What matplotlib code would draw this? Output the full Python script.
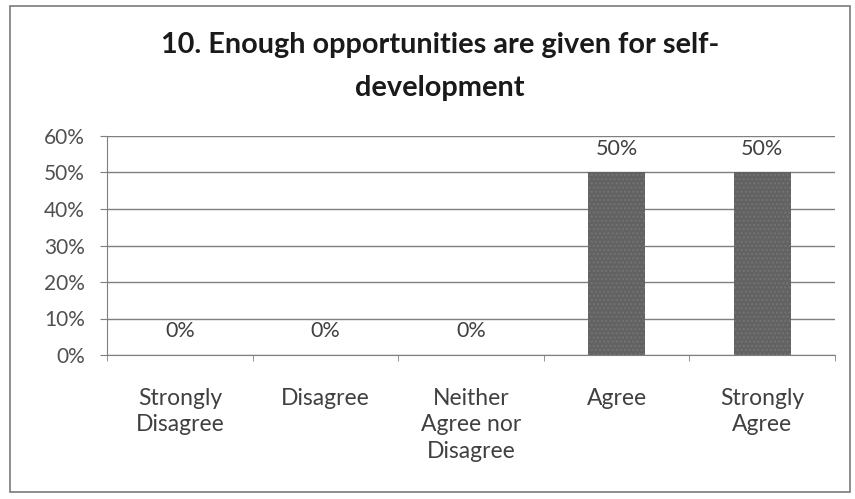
import matplotlib
matplotlib.use("Agg")
import matplotlib.pyplot as plt
from matplotlib.patches import Rectangle
from matplotlib.ticker import FixedLocator, NullFormatter

categories = ["Strongly\nDisagree", "Disagree", "Neither\nAgree nor\nDisagree", "Agree", "Strongly\nAgree"]
values = [0, 0, 0, 50, 50]
labels = ["0%", "0%", "0%", "50%", "50%"]
yticks = [0, 10, 20, 30, 40, 50, 60]
title = "10. Enough opportunities are given for self-\ndevelopment"

plt.rcParams['font.family'] = ['Lato', 'DejaVu Sans']

fig = plt.figure(figsize=(8.55, 4.99), dpi=100)
fig.patch.set_facecolor('white')
fig.add_artist(Rectangle((10/855, 1-492/499), 840/855, 486/499, transform=fig.transFigure,
                         fill=False, edgecolor='#7a7a7a', linewidth=1.2))

ax = fig.add_axes([107/855, 1-355/499, (835-107)/855, (355-136)/499])
x = list(range(len(categories)))
bars = ax.bar(x, values, width=0.39, color='#626262', edgecolor='#737373', hatch='....', linewidth=0, zorder=3)
ax.set_xlim(-0.5, len(categories) - 0.5)
ax.set_ylim(0, 60)
ax.set_yticks(yticks)
ax.set_yticklabels([f"{t}%" for t in yticks], fontsize=15, color='#505050')
ax.grid(axis='y', color='#7f7f7f', linewidth=1.0, zorder=0)
ax.set_axisbelow(True)
for s in ['top', 'right']:
    ax.spines[s].set_visible(False)
ax.spines['left'].set_color('#7f7f7f')
ax.spines['bottom'].set_color('#7f7f7f')
ax.tick_params(axis='y', length=5, color='#7f7f7f', pad=11)
ax.set_xticks(x)
ax.set_xticklabels(categories, fontsize=16.5, color='#404040', linespacing=1.3)
ax.tick_params(axis='x', length=0, pad=24)
ax.xaxis.set_minor_locator(FixedLocator([i - 0.5 for i in range(len(categories) + 1)]))
ax.xaxis.set_minor_formatter(NullFormatter())
ax.tick_params(axis='x', which='minor', length=4, color='#7f7f7f')

for xi, v, lab in zip(x, values, labels):
    ax.annotate(lab, (xi, v), xytext=(0, 10), textcoords='offset points',
                ha='center', va='bottom', fontsize=15.5, color='#404040')

fig.text(440/855, 1-66.5/499, title, ha='center', va='center', fontsize=20.8,
         fontweight='bold', color='#1a1a1a', linespacing=1.85)

fig.savefig("out.png", dpi=100)
